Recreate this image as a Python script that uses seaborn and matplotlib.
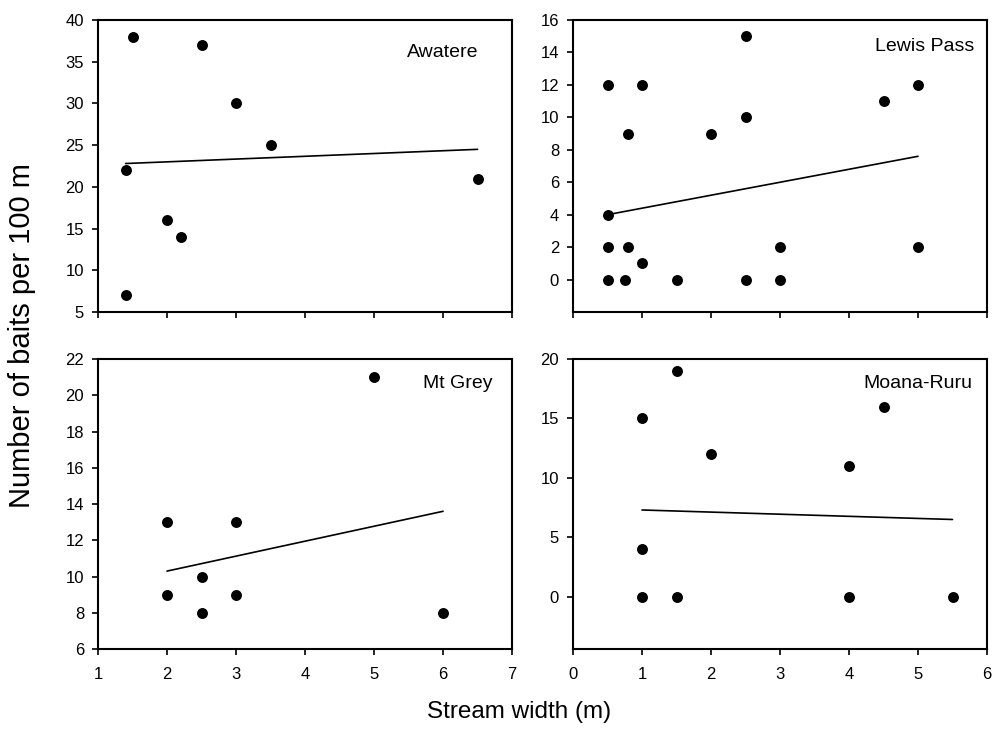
import matplotlib
matplotlib.use("Agg")
import matplotlib.pyplot as plt
import seaborn as sns
import pandas as pd

sns.set_theme(style="ticks")
plt.rcParams['font.family'] = ['Liberation Sans', 'DejaVu Sans']

# Awatere
awa_x = [1.4, 1.4, 1.5, 2.0, 2.2, 2.5, 3.0, 3.5, 6.5]
awa_y = [7, 22, 38, 16, 14, 37, 30, 25, 21]
awa_fit_x = [1.4, 6.5]
awa_fit_y = [22.8, 24.5]

# Lewis Pass
lew_x = [0.5, 0.5, 0.5, 0.5, 0.8, 0.8, 0.75, 1.0, 1.0, 1.5, 2.0, 2.5, 2.5, 2.5, 3.0, 3.0, 4.5, 5.0, 5.0]
lew_y = [12, 4, 2, 0, 9, 2, 0, 12, 1, 0, 9, 15, 10, 0, 2, 0, 11, 12, 2]
lew_fit_x = [0.5, 5.0]
lew_fit_y = [4.0, 7.6]

# Mt Grey
grey_x = [2.0, 2.0, 2.5, 2.5, 3.0, 3.0, 5.0, 6.0]
grey_y = [13, 9, 10, 8, 13, 9, 21, 8]
grey_fit_x = [2.0, 6.0]
grey_fit_y = [10.3, 13.6]

# Moana-Ruru
moa_x = [1.0, 1.0, 1.0, 1.5, 1.5, 2.0, 4.0, 4.0, 4.5, 5.5]
moa_y = [15, 4, 0, 19, 0, 12, 11, 0, 16, 0]
moa_fit_x = [1.0, 5.5]
moa_fit_y = [7.3, 6.5]

panels = [
    ("Awatere", awa_x, awa_y, awa_fit_x, awa_fit_y, (1, 7), (5, 40), range(5, 41, 5), (0.918, 0.89)),
    ("Lewis Pass", lew_x, lew_y, lew_fit_x, lew_fit_y, (0, 6), (-2, 16), range(0, 17, 2), (0.969, 0.911)),
    ("Mt Grey", grey_x, grey_y, grey_fit_x, grey_fit_y, (1, 7), (6, 22), range(6, 23, 2), (0.952, 0.914)),
    ("Moana-Ruru", moa_x, moa_y, moa_fit_x, moa_fit_y, (0, 6), (-4.4, 20), range(0, 21, 5), (0.964, 0.917)),
]

positions = [
    [0.0984, 0.5795, 0.4157, 0.3935],
    [0.5753, 0.5795, 0.4157, 0.3935],
    [0.0984, 0.1253, 0.4157, 0.3908],
    [0.5753, 0.1253, 0.4157, 0.3908],
]

fig = plt.figure(figsize=(9.96, 7.42), dpi=100)

for i, (name, x, y, fx, fy, xl, yl, yt, tpos) in enumerate(panels):
    ax = fig.add_axes(positions[i])
    df = pd.DataFrame({"x": x, "y": y})
    sns.scatterplot(data=df, x="x", y="y", ax=ax, color="black", s=62,
                    edgecolor="black", linewidth=0)
    sns.lineplot(x=fx, y=fy, ax=ax, color="black", linewidth=1.2)
    ax.set_xlim(*xl)
    ax.set_ylim(*yl)
    ax.set_xticks(range(xl[0], xl[1] + 1))
    ax.set_yticks(list(yt))
    ax.set_xlabel("")
    ax.set_ylabel("")
    for sp in ax.spines.values():
        sp.set_visible(True)
        sp.set_color("black")
        sp.set_linewidth(1.5)
    ax.tick_params(direction="out", length=4, width=1.2, colors="black",
                   labelsize=12, pad=6)
    if i < 2:
        ax.tick_params(axis="x", labelbottom=False)
    else:
        ax.tick_params(axis="x", pad=9)
    ax.text(tpos[0], tpos[1], name, transform=ax.transAxes, ha="right",
            va="center", fontsize=14, color="black")

fig.text(0.022, 0.548, "Number of baits per 100 m", rotation=90, ha="center",
         va="center", fontsize=21, color="black")
fig.text(0.521, 0.04, "Stream width (m)", ha="center", va="center",
         fontsize=17.5, color="black")

fig.savefig("out.png", dpi=100, facecolor="white")
